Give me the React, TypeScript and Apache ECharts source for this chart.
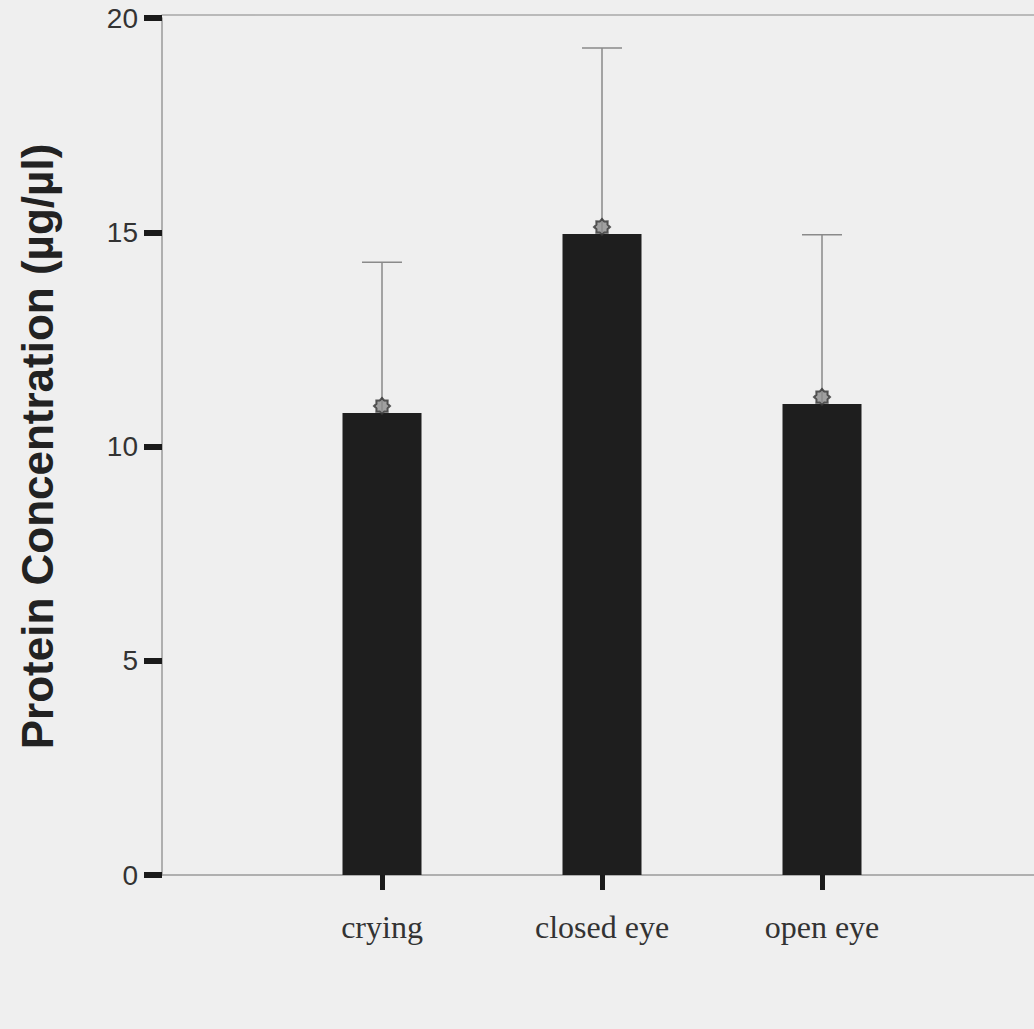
import React, { useEffect, useRef } from "react";
import * as echarts from "echarts";

const categories = ["crying", "closed eye", "open eye"];
const categoryPositions = [1, 2, 3];
const meanValues = [10.78, 14.96, 10.99];
const upperErrorValues = [14.3, 19.3, 14.94];
const yTicks = [0, 5, 10, 15, 20];

function gearPath(): string {
  const pts: string[] = [];
  const n = 16;
  for (let i = 0; i < n; i++) {
    const r = i % 2 === 0 ? 10 : 7.5;
    const a = (Math.PI * 2 * i) / n;
    const x = (10 + r * Math.cos(a)).toFixed(2);
    const y = (10 + r * Math.sin(a)).toFixed(2);
    pts.push((i === 0 ? "M" : "L") + x + " " + y);
  }
  return "path://" + pts.join(" ") + " Z";
}

export default function App() {
  const ref = useRef<HTMLDivElement>(null);
  useEffect(() => {
    if (!ref.current) return;
    const chart = echarts.init(ref.current, null, { renderer: "svg" });
    const barData = categoryPositions.map((p, i) => [p, meanValues[i]]);
    const errData = categoryPositions.map((p, i) => [p, meanValues[i], upperErrorValues[i]]);
    chart.setOption({
      animation: false,
      backgroundColor: "#efefef",
      grid: { left: 162, top: 18, width: 880, height: 857, outerBoundsMode: "none", containLabel: false },
      xAxis: [
        {
          type: "value",
          min: 0,
          max: 4,
          interval: 1,
          axisLine: { show: true, lineStyle: { color: "#9a9a9a", width: 1.5 } },
          axisTick: {
            show: true,
            customValues: categoryPositions,
            length: 15,
            lineStyle: { color: "#1a1a1a", width: 5 },
          },
          axisLabel: {
            customValues: categoryPositions,
            formatter: (v: number) => categories[categoryPositions.indexOf(v)] ?? "",
            fontFamily: "Liberation Serif, Times New Roman, serif",
            fontSize: 32,
            color: "#333",
            margin: 36,
          },
          splitLine: { show: false },
        },
        {
          type: "value",
          position: "top",
          min: 0,
          max: 4,
          offset: 3,
          axisLine: { show: true, lineStyle: { color: "#a8a8a8", width: 1.5 } },
          axisTick: { show: false },
          axisLabel: { show: false },
          splitLine: { show: false },
        },
      ],
      yAxis: {
        type: "value",
        min: yTicks[0],
        max: yTicks[yTicks.length - 1],
        interval: 5,
        name: "Protein Concentration (µg/µl)",
        nameLocation: "middle",
        nameGap: 103,
        nameRotate: 90,
        nameTextStyle: {
          fontFamily: "Liberation Sans, Arial, Helvetica, sans-serif",
          fontWeight: "bold",
          fontSize: 44,
          color: "#222",
        },
        axisLine: { show: true, lineStyle: { color: "#9a9a9a", width: 1.5 } },
        axisTick: { show: true, length: 18, lineStyle: { color: "#1a1a1a", width: 6 } },
        axisLabel: {
          fontFamily: "Liberation Sans, Arial, Helvetica, sans-serif",
          fontSize: 28,
          color: "#333",
          margin: 24,
        },
        splitLine: { show: false },
      },
      series: [
        {
          type: "bar",
          data: barData,
          barWidth: 79,
          itemStyle: { color: "#1e1e1e" },
          z: 2,
        },
        {
          type: "custom",
          data: errData,
          z: 3,
          renderItem: (params: any, api: any) => {
            const x = api.value(0);
            const lo = api.coord([x, api.value(1)]);
            const hi = api.coord([x, api.value(2)]);
            const half = 20;
            const style = { stroke: "#8a8a8a", lineWidth: 1.5 };
            return {
              type: "group",
              children: [
                { type: "line", shape: { x1: lo[0], y1: lo[1], x2: hi[0], y2: hi[1] }, style },
                { type: "line", shape: { x1: hi[0] - half, y1: hi[1], x2: hi[0] + half, y2: hi[1] }, style },
              ],
            };
          },
        },
        {
          type: "scatter",
          data: barData,
          symbol: gearPath(),
          symbolSize: 16,
          symbolOffset: [0, -7],
          itemStyle: { color: "#8c8c8c", borderColor: "#333", borderWidth: 2 },
          z: 4,
        },
      ],
    });
    return () => chart.dispose();
  }, []);
  return (
    <div
      ref={ref}
      style={{ position: "fixed", left: 0, top: 0, width: 1034, height: 1029 }}
    />
  );
}
